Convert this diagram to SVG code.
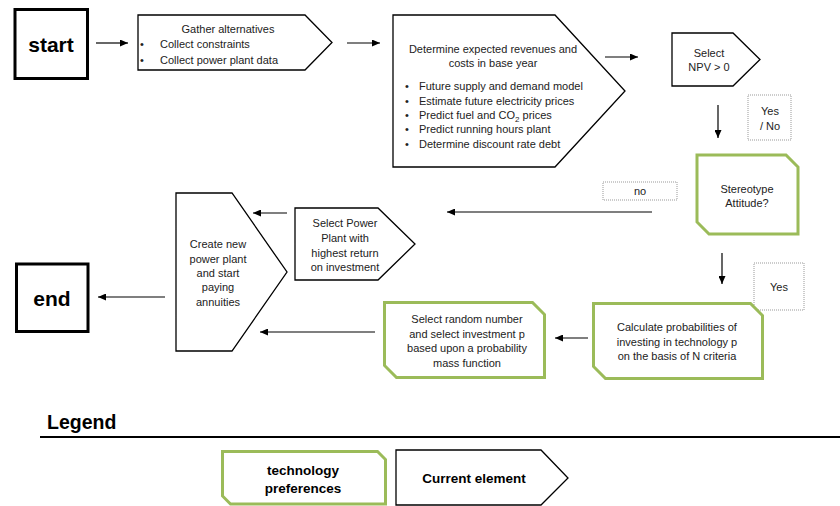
<svg xmlns="http://www.w3.org/2000/svg" width="840" height="506" viewBox="0 0 840 506">
  <style>
    .t { font-family: "Liberation Sans", Arial, sans-serif; font-size: 11px; fill: #222; }
    .c { text-anchor: middle; }
    .b { font-weight: bold; fill: #000; }
    .big { font-size: 21px; }
    .head { font-size: 19.5px; }
    .leg { font-size: 13.5px; }
    .box { fill: #fff; stroke: #000; stroke-width: 1.3; }
    .term { fill: #fff; stroke: #000; stroke-width: 3; }
    .pref { fill: #fff; stroke: #9bbb59; stroke-width: 3; stroke-linejoin: miter; }
    .note { fill: #fff; stroke: #999; stroke-width: 1; stroke-dasharray: 1 1; }
    .arrow { fill: none; stroke: #000; stroke-width: 1.2; marker-end: url(#head); }
  </style>
  <defs>
    <marker id="head" markerUnits="userSpaceOnUse" markerWidth="8" markerHeight="7" refX="8" refY="3.5" orient="auto">
      <path d="M0,0 L8,3.5 L0,7 z" fill="#000"/>
    </marker>
  </defs>

  <!-- connectors -->
  <g id="connectors">
    <line class="arrow" x1="96" y1="43" x2="128" y2="43"/>
    <line class="arrow" x1="347" y1="43" x2="380" y2="43"/>
    <line class="arrow" x1="605" y1="57" x2="638" y2="57"/>
    <line class="arrow" x1="718" y1="105" x2="718" y2="138"/>
    <line class="arrow" x1="652" y1="212" x2="447" y2="212"/>
    <line class="arrow" x1="287" y1="213" x2="253" y2="213"/>
    <line class="arrow" x1="722" y1="253" x2="722" y2="284"/>
    <line class="arrow" x1="588" y1="338" x2="555" y2="338"/>
    <line class="arrow" x1="375" y1="332" x2="260" y2="332"/>
    <line class="arrow" x1="165" y1="297" x2="98" y2="297"/>
  </g>

  <!-- start -->
  <g id="start">
    <rect class="term" x="15" y="9.5" width="72.5" height="69"/>
    <text class="t c b big" x="51" y="51.5">start</text>
  </g>

  <!-- gather alternatives -->
  <g id="gather">
    <polygon class="box" points="138,15 305,15 332,42.5 305,70 138,70"/>
    <text class="t c" x="228" y="33">Gather alternatives</text>
    <text class="t" x="140" y="48">•</text>
    <text class="t" x="160" y="48">Collect constraints</text>
    <text class="t" x="140" y="64">•</text>
    <text class="t" x="160" y="64">Collect power plant data</text>
  </g>

  <!-- expected revenues and costs -->
  <g id="determine">
    <polygon class="box" points="393,15 555,15 625,91 555,167 393,167"/>
    <text class="t c" x="493" y="53">Determine expected revenues and</text>
    <text class="t c" x="493" y="67">costs in base year</text>
    <g class="t">
      <text x="405" y="90">•</text><text x="419" y="90">Future supply and demand model</text>
      <text x="405" y="104.7">•</text><text x="419" y="104.7">Estimate future electricity prices</text>
      <text x="405" y="119">•</text><text x="419" y="119">Predict fuel and CO<tspan font-size="8" dy="3">2</tspan><tspan dy="-3"> prices</tspan></text>
      <text x="405" y="133.3">•</text><text x="419" y="133.3">Predict running hours plant</text>
      <text x="405" y="148">•</text><text x="419" y="148">Determine discount rate debt</text>
    </g>
  </g>

  <!-- NPV selection -->
  <g id="select-npv">
    <polygon class="box" points="672,33 733,33 760,59.5 733,86 672,86"/>
    <text class="t c" x="709" y="57">Select</text>
    <text class="t c" x="709" y="71">NPV &gt; 0</text>
  </g>

  <g id="label-yes-no">
    <rect class="note" x="748" y="95" width="43" height="45"/>
    <text class="t c" x="770" y="115">Yes</text>
    <text class="t c" x="770" y="130">/ No</text>
  </g>

  <!-- stereotype attitude -->
  <g id="stereotype">
    <path class="pref" d="M697,155 H786 L798,167 V234 H709 L697,222 Z"/>
    <text class="t c" x="747" y="193">Stereotype</text>
    <text class="t c" x="747" y="207">Attitude?</text>
  </g>

  <g id="label-no">
    <rect class="note" x="603" y="182" width="74" height="18"/>
    <text class="t c" x="640" y="195">no</text>
  </g>

  <!-- highest return -->
  <g id="select-power-plant">
    <polygon class="box" points="295,208 378,208 415,244 378,280 295,280"/>
    <text class="t c" x="345" y="227">Select Power</text>
    <text class="t c" x="345" y="242">Plant with</text>
    <text class="t c" x="345" y="257">highest return</text>
    <text class="t c" x="345" y="271">on investment</text>
  </g>

  <!-- create plant -->
  <g id="create">
    <polygon class="box" points="176,193 232,193 287,272 232,351 176,351"/>
    <text class="t c" x="218" y="248">Create new</text>
    <text class="t c" x="218" y="263">power plant</text>
    <text class="t c" x="218" y="277">and start</text>
    <text class="t c" x="218" y="291">paying</text>
    <text class="t c" x="218" y="306">annuities</text>
  </g>

  <!-- end -->
  <g id="end">
    <rect class="term" x="16.5" y="264" width="71.5" height="67.5"/>
    <text class="t c b big" x="52" y="306">end</text>
  </g>

  <g id="label-yes">
    <rect class="note" x="754" y="263" width="50" height="47"/>
    <text class="t c" x="779" y="291">Yes</text>
  </g>

  <!-- probabilities -->
  <g id="calculate">
    <path class="pref" d="M593.5,303.5 H750.5 L762.5,315.5 V378.5 H605.5 L593.5,366.5 Z"/>
    <text class="t c" x="677" y="331">Calculate probabilities of</text>
    <text class="t c" x="677" y="346">investing in technology p</text>
    <text class="t c" x="677" y="360">on the basis of N criteria</text>
  </g>

  <!-- random pick -->
  <g id="random">
    <path class="pref" d="M384.5,302.5 H532.5 L544.5,314.5 V377.5 H396.5 L384.5,365.5 Z"/>
    <text class="t c" x="467" y="323">Select random number</text>
    <text class="t c" x="467" y="338">and select investment p</text>
    <text class="t c" x="467" y="352">based upon a probability</text>
    <text class="t c" x="467" y="367">mass function</text>
  </g>

  <!-- legend -->
  <g id="legend">
    <text class="t b head" x="47" y="429">Legend</text>
    <line x1="40" y1="437" x2="840" y2="437" stroke="#000" stroke-width="2"/>
    <g id="legend-preferences">
      <path class="pref" d="M222.5,451.5 H377.5 L385.5,459.5 V504 H230.5 L222.5,496 Z"/>
      <text class="t c b leg" x="303" y="474.5">technology</text>
      <text class="t c b leg" x="303" y="492.5">preferences</text>
    </g>
    <g id="legend-current">
      <polygon class="box" points="396,450 541,450 568,478 541,505 396,505"/>
      <text class="t c b leg" x="474" y="483">Current element</text>
    </g>
  </g>
</svg>
